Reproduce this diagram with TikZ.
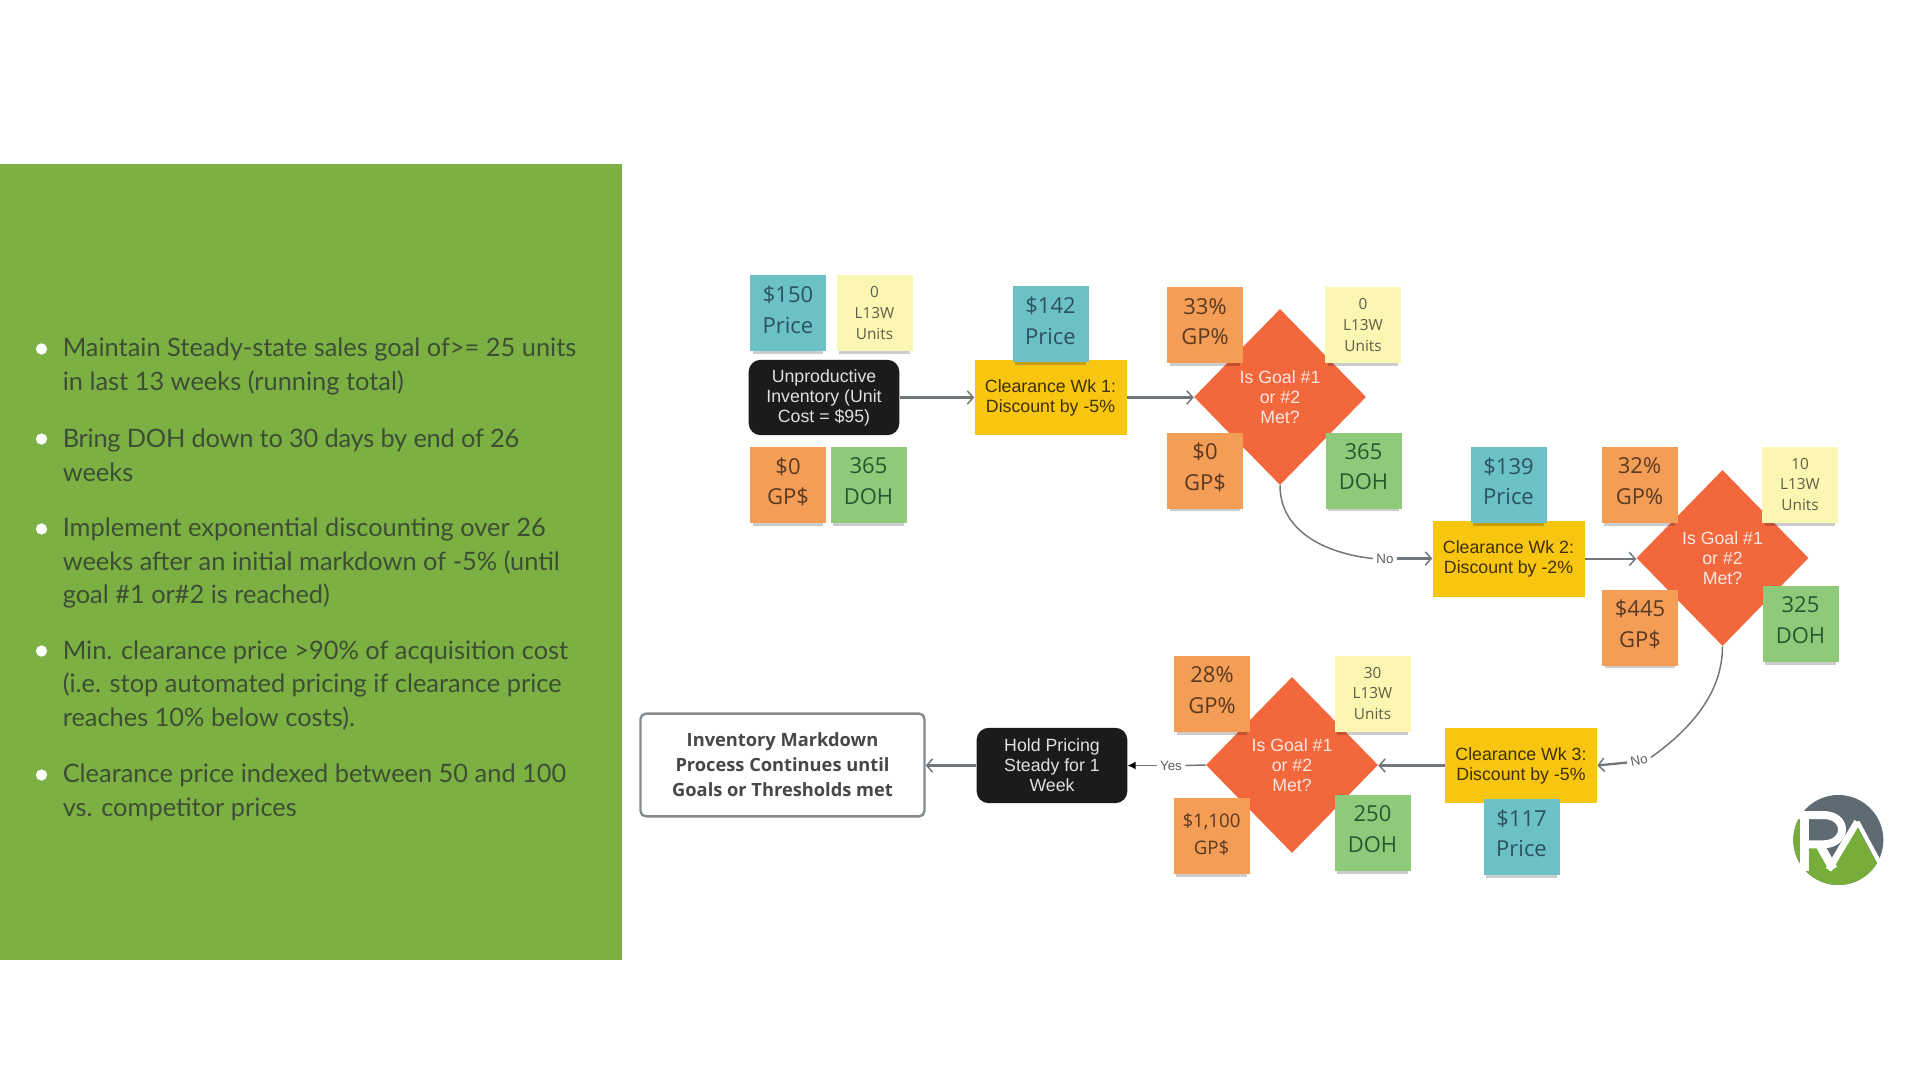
\documentclass[tikz,border=0pt]{standalone}
\usepackage{fontspec}
\usepackage{xcolor}
\usetikzlibrary{shapes.geometric,arrows.meta,shadows}
\setmainfont{Liberation Sans}
\newfontfamily\opens{Open Sans}
\newfontfamily\latof{Lato}
\definecolor{panelgreen}{HTML}{7DB043}
\definecolor{stTeal}{HTML}{6BC1C5}
\definecolor{stYellow}{HTML}{FBF7B2}
\definecolor{stOrange}{HTML}{F49D56}
\definecolor{stGreen}{HTML}{8DCB7B}
\definecolor{dmOrange}{HTML}{F3673D}
\definecolor{gold}{HTML}{F8C510}
\definecolor{inkBlack}{HTML}{1B1B1D}
\definecolor{lineGray}{HTML}{70767A}
\definecolor{bulletInk}{HTML}{3C4F35}
\definecolor{logoGray}{HTML}{5E6B73}
\definecolor{logoGreen}{HTML}{77AD3B}
\definecolor{inkTeal}{HTML}{2C5260}
\definecolor{inkOrange}{HTML}{5A3A22}
\definecolor{inkGreen}{HTML}{265A2E}
\definecolor{inkYellow}{HTML}{5E5E48}
\newcommand{\stk}[2]{#1\\#2\\[-17pt]\mbox{}}
\newcommand{\unt}[1]{#1\\L13W\\Units\\[-14.5pt]\mbox{}}
\tikzset{
  x=0.75pt,y=-0.75pt,
  stickybase/.style={rectangle,inner sep=0pt,minimum width=57pt,minimum height=57pt,align=center,
    font=\opens\fontsize{16.5}{23}\selectfont,
    drop shadow={shadow xshift=0pt,shadow yshift=-4.5pt,shadow scale=.93,fill=black,opacity=.2}},
  stPrice/.style={stickybase,fill=stTeal,text=inkTeal},
  stGP/.style={stickybase,fill=stOrange,text=inkOrange},
  stDOH/.style={stickybase,fill=stGreen,text=inkGreen},
  stUnits/.style={stickybase,fill=stYellow,text=inkYellow,font=\opens\fontsize{11.5}{15.5}\selectfont},
  flowtext/.style={font=\fontsize{13.3}{15}\selectfont,align=center,inner sep=0pt},
  clearbox/.style={flowtext,rectangle,fill=gold,text=black!75!gold,minimum width=114pt,minimum height=56.5pt},
  blackbox/.style={flowtext,rectangle,rounded corners=9pt,fill=inkBlack,text=white!88!black,minimum width=113pt,minimum height=56.5pt},
  goalbox/.style={flowtext,diamond,aspect=1,fill=dmOrange,text=white!85!dmOrange,minimum width=129pt,minimum height=132pt},
  endbox/.style={rectangle,rounded corners=4pt,draw=lineGray!85,line width=1.8pt,fill=white,text=black!72,
    minimum width=213pt,minimum height=77pt,align=center,inner sep=0pt,
    font=\opens\bfseries\fontsize{13.7}{18.75}\selectfont},
  bullettext/.style={anchor=west,align=left,inner sep=0pt,text=bulletInk,
    font=\latof\fontsize{19.05}{25.2}\selectfont},
  bulletdot/.style={circle,fill=white,inner sep=0pt,minimum size=8.5pt},
  flow/.style={draw=lineGray,line width=1.7pt,-{Straight Barb[length=4.5pt,width=10pt,line width=1.1pt]}},
  curveline/.style={draw=lineGray,line width=1.1pt},
  edgelabel/.style={font=\fontsize{10}{12}\selectfont,text=lineGray!80!black,inner sep=2.5pt},
}
\begin{document}
\begin{tikzpicture}
\path[use as bounding box,fill=white] (0,0) rectangle (1920,1087);
\fill[panelgreen] (0,164) rectangle (622,960);

% bullets
\node[bulletdot] (b1) at (41.5,349) {};
\node[bullettext] (t1) at (62.5,366.5) {Maintain Steady-state sales goal of>= 25 units\\in last 13 weeks (running total)};
\node[bulletdot] (b2) at (41.5,439) {};
\node[bullettext] (t2) at (62.5,455.5) {{\addfontfeature{LetterSpace=-1}Bring DOH down to 30 days by end of 26}\\weeks};
\node[bulletdot] (b3) at (41.5,529) {};
\node[bullettext] (t3) at (62.5,563) {Implement exponential discounting over 26\\weeks after an initial markdown of -5\% (until\\goal \#1 or\#2 is reached)};
\node[bulletdot] (b4) at (41.5,651) {};
\node[bullettext] (t4) at (62.5,685.5) {Min. clearance price >90\% of acquisition cost\\(i.e. stop automated pricing if clearance price\\reaches 10\% below costs).};
\node[bulletdot] (b5) at (41.5,775) {};
\node[bullettext] (t5) at (62.5,792.5) {Clearance price indexed between 50 and 100\\vs. competitor prices};

% process boxes
\node[blackbox] (start) at (824,397.5) {Unproductive\\Inventory (Unit\\Cost = \$95)};
\node[clearbox] (w1) at (1050.5,397.5) {Clearance Wk 1:\\Discount by -5\%};
\node[goalbox] (d1) at (1280,397) {Is Goal \#1\\or \#2\\Met?};
\node[clearbox] (w2) at (1508.5,559) {Clearance Wk 2:\\Discount by -2\%};
\node[goalbox] (d2) at (1722.5,558) {Is Goal \#1\\or \#2\\Met?};
\node[clearbox] (w3) at (1521,765.5) {Clearance Wk 3:\\Discount by -5\%};
\node[goalbox] (d3) at (1292,765) {Is Goal \#1\\or \#2\\Met?};
\node[blackbox] (hold) at (1052,765.5) {Hold Pricing\\Steady for 1\\Week};
\node[endbox] (end) at (782.5,765) {Inventory Markdown\\Process Continues until\\Goals or Thresholds met};

% connector labels
\node[edgelabel] (no1) at (1385,558.5) {No};
\node[edgelabel,rotate=12] (no2) at (1639,760) {No};
\node[edgelabel] (yes) at (1171,765.5) {Yes};

% connectors
\draw[flow] (start.east) -- (w1.west);
\draw[flow] (w1.east) -- (w1.east -| d1.west);
\draw[curveline] (d1.south) .. controls +(0,50) and +(-40,-4) .. (no1.west);
\draw[flow] (no1.east) -- (no1.east -| w2.west);
\draw[flow] (w2.east) -- (w2.east -| d2.west);
\draw[curveline] (d2.south) .. controls +(0,50) and +(35,-25) .. (no2.east);
\draw[flow] (no2.west) -- (w3.east);
\draw[flow] (w3.west) -- (w3.west -| d3.east);
\draw[draw=lineGray,line width=1.1pt] (d3.west) -- (yes.east);
\draw[draw=lineGray,line width=1.1pt,-{Latex[length=6pt,width=6pt,black]}] (yes.west) -- (hold.east);
\draw[flow] (hold.west) -- (hold.west -| end.east);

% sticky notes
\node[stPrice] (p150) at (788,313.5) {\stk{\$150}{Price}};
\node[stUnits] (u0a) at (874.5,313.5) {\unt{0}};
\node[stGP] (gd0a) at (788,485) {\stk{\$0}{GP\$}};
\node[stDOH] (doh365a) at (868.5,485) {\stk{365}{DOH}};
\node[stPrice] (p142) at (1050.5,324.5) {\stk{\$142}{Price}};
\node[stGP] (gp33) at (1205,325.5) {\stk{33\%}{GP\%}};
\node[stUnits] (u0b) at (1363,325.5) {\unt{0}};
\node[stGP] (gd0b) at (1205,470.5) {\stk{\$0}{GP\$}};
\node[stDOH] (doh365b) at (1363.5,470.5) {\stk{365}{DOH}};
\node[stPrice] (p139) at (1508.5,485) {\stk{\$139}{Price}};
\node[stGP] (gp32) at (1639.5,485) {\stk{32\%}{GP\%}};
\node[stUnits] (u10) at (1800,485) {\unt{10}};
\node[stGP] (gd445) at (1640,627.5) {\stk{\$445}{GP\$}};
\node[stDOH] (doh325) at (1800.5,624) {\stk{325}{DOH}};
\node[stPrice] (p117) at (1521.5,837) {\stk{\$117}{Price}};
\node[stGP] (gp28) at (1212,694) {\stk{28\%}{GP\%}};
\node[stUnits] (u30) at (1372.5,694) {\unt{30}};
\node[stGP,font=\opens\fontsize{14}{20}\selectfont] (gd1100) at (1211.5,836) {\$1,100\\GP\$\\[-17pt]\mbox{}};
\node[stDOH] (doh250) at (1372.5,833) {\stk{250}{DOH}};

% logo
\begin{scope}[shift={(1780,785)},x=.25pt,y=-.25pt]
  \begin{scope}
    \clip (175,165) circle[radius=135];
    \fill[logoGray] (0,0) rectangle (360,330);
    \fill[logoGreen] (20,85) -- (72,85) -- (72,180) -- (130,180) -- (152,245) -- (232,128) -- (292,235) -- (340,235) -- (340,330) -- (20,330) -- cycle;
  \end{scope}
  \draw[white,line width=7pt,line cap=butt] (74,80) -- (74,258);
  \draw[white,line width=6pt] (52,90) -- (130,90) .. controls (205,90) and (205,178) .. (128,178) -- (82,178);
  \draw[white,line width=6.5pt] (118,178) -- (160,252);
  \draw[white,line width=5pt] (146,254) -- (232,110);
  \draw[white,line width=3.2pt] (232,110) -- (298,232);
\end{scope}
\end{tikzpicture}
\end{document}
